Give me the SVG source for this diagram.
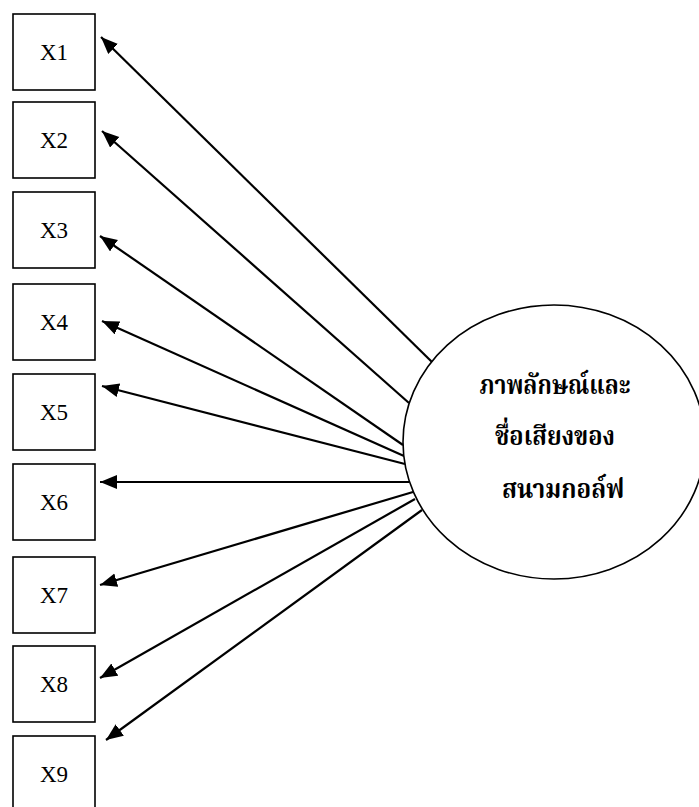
<svg xmlns="http://www.w3.org/2000/svg" width="699" height="807" viewBox="0 0 699 807">
<defs>
<style>
.box{fill:#fff;stroke:#000;stroke-width:1.6}
.lbl{font-family:"Liberation Serif","Times New Roman",serif;font-size:23px;fill:#000;text-anchor:middle}
.edge{stroke:#000;stroke-width:2.2;fill:none;marker-end:url(#ah)}
.ell{fill:#fff;stroke:#000;stroke-width:1.6}
.th{font-family:"Liberation Serif","Noto Serif Thai","Noto Sans Thai","DejaVu Sans",serif;font-weight:bold;font-size:26px;fill:#000;text-anchor:middle}
</style>
<marker id="ah" markerUnits="userSpaceOnUse" markerWidth="19" markerHeight="16" refX="17" refY="7" orient="auto">
<path d="M0,0 L17,7 L0,14 z" fill="#000"/>
</marker>
</defs>
<rect width="699" height="807" fill="#fff"/>
<g id="connectors">
<line class="edge" x1="432" y1="362" x2="101" y2="37"/>
<line class="edge" x1="409" y1="403" x2="102" y2="131"/>
<line class="edge" x1="403" y1="445" x2="100" y2="236"/>
<line class="edge" x1="404" y1="456" x2="102" y2="321"/>
<line class="edge" x1="405" y1="464" x2="102" y2="386"/>
<line class="edge" x1="409" y1="482" x2="100" y2="482"/>
<line class="edge" x1="413" y1="492" x2="100" y2="585"/>
<line class="edge" x1="415" y1="499" x2="100" y2="678"/>
<line class="edge" x1="422" y1="510" x2="106" y2="740"/>
</g>
<g id="X1"><rect class="box" x="13" y="14" width="82" height="76"/><text class="lbl" x="54" y="60">X1</text></g>
<g id="X2"><rect class="box" x="13" y="102" width="82" height="76"/><text class="lbl" x="54" y="148">X2</text></g>
<g id="X3"><rect class="box" x="13" y="192" width="82" height="76"/><text class="lbl" x="54" y="238">X3</text></g>
<g id="X4"><rect class="box" x="13" y="284" width="82" height="76"/><text class="lbl" x="54" y="330">X4</text></g>
<g id="X5"><rect class="box" x="13" y="374" width="82" height="76"/><text class="lbl" x="54" y="420">X5</text></g>
<g id="X6"><rect class="box" x="13" y="464" width="82" height="76"/><text class="lbl" x="54" y="510">X6</text></g>
<g id="X7"><rect class="box" x="13" y="557" width="82" height="76"/><text class="lbl" x="54" y="603">X7</text></g>
<g id="X8"><rect class="box" x="13" y="646" width="82" height="76"/><text class="lbl" x="54" y="692">X8</text></g>
<g id="X9"><rect class="box" x="13" y="736" width="82" height="76"/><text class="lbl" x="54" y="782">X9</text></g>
<g id="image">
<ellipse class="ell" cx="554" cy="442" rx="151" ry="137"/>
<text class="th" x="555" y="394" textLength="151" lengthAdjust="spacingAndGlyphs">ภาพลักษณ์และ</text>
<text class="th" x="555" y="445" textLength="120" lengthAdjust="spacingAndGlyphs">ชื่อเสียงของ</text>
<text class="th" x="563" y="498" textLength="122" lengthAdjust="spacingAndGlyphs">สนามกอล์ฟ</text>
</g>
</svg>
